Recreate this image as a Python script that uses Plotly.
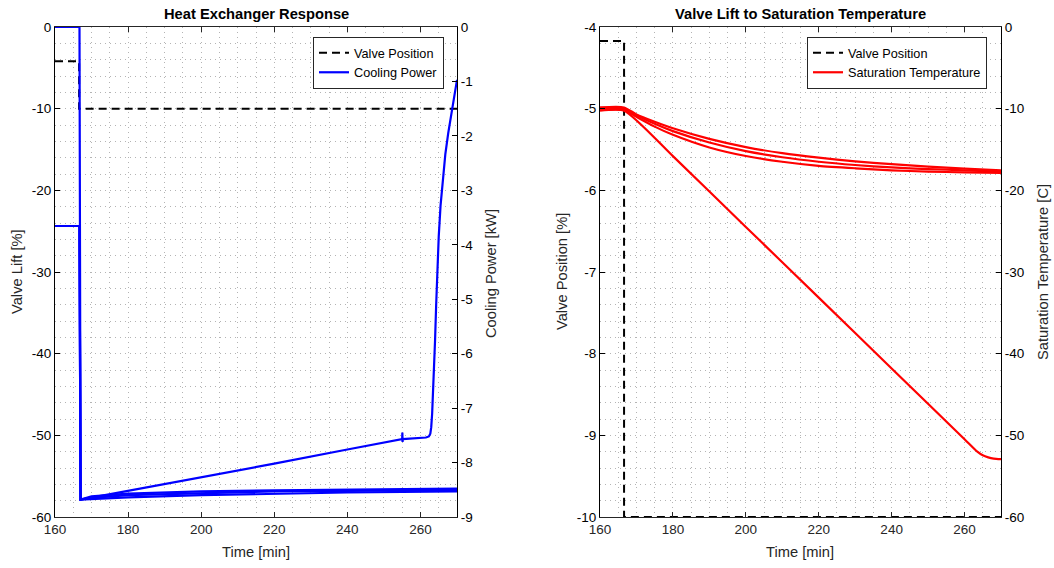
import plotly.graph_objects as go

# ---------------- data ----------------
# Left subplot: Heat Exchanger Response
t_valve = [160, 166.6, 166.6, 270]
valve_left = [-4.2, -4.2, -10, -10]          # Valve Lift [%]

t_cp1 = [160, 166.7, 167.0, 180, 200, 220, 240, 254.9, 255.0, 255.05, 255.1, 255.2,
         261.5, 262.3, 262.7, 262.95, 263.2, 263.45, 263.7, 264.0, 264.3, 264.6, 265.0,
         265.5, 266.1, 266.8, 267.6, 268.4, 269.2, 270]
cp1 = [0, 0, -8.68, -8.52, -8.27, -8.02, -7.76, -7.575, -7.57, -7.45, -7.62, -7.57,
       -7.54, -7.52, -7.47, -7.35, -7.1, -6.75, -6.3, -5.75, -5.1, -4.45, -3.85,
       -3.28, -2.78, -2.34, -1.95, -1.62, -1.3, -0.97]

t_cp_band = [160, 166.7, 167.0, 170, 180, 200, 220, 240, 270]
cp2 = [-3.655, -3.655, -8.68, -8.62, -8.57, -8.53, -8.51, -8.50, -8.48]
cp3 = [-3.655, -3.655, -8.68, -8.65, -8.60, -8.56, -8.53, -8.52, -8.50]
cp4 = [-3.655, -3.655, -8.68, -8.67, -8.64, -8.60, -8.57, -8.55, -8.53]

# Right subplot: Valve Lift to Saturation Temperature
valve_right = [-4.17, -4.17, -10, -10]       # Valve Position [%]

t_sat = [160, 166.6, 170, 175, 180, 190, 200, 210, 220, 230, 240, 250, 260, 270]
sat_a = [-9.85, -9.85, -10.7, -11.6, -12.4, -13.7, -14.7, -15.45, -16.0, -16.45, -16.8, -17.1, -17.35, -17.55]
sat_b = [-10.0, -10.0, -10.8, -11.85, -12.75, -14.15, -15.2, -15.95, -16.5, -16.9, -17.2, -17.4, -17.55, -17.7]
sat_c = [-10.15, -10.15, -11.0, -12.2, -13.2, -14.75, -15.8, -16.5, -17.0, -17.3, -17.55, -17.7, -17.8, -17.85]

t_sat_d = [160, 166.6, 180, 200, 220, 240, 260, 263.5, 265, 266.5, 268, 270]
sat_d = [-10.25, -10.25, -15.81, -24.48, -33.14, -41.81, -50.48, -52.0, -52.45, -52.7, -52.85, -52.92]

x_ticks = [160, 180, 200, 220, 240, 260]
left_y_ticks = [0, -10, -20, -30, -40, -50, -60]
cp_ticks = [0, -1, -2, -3, -4, -5, -6, -7, -8, -9]
vp_ticks = [-4, -5, -6, -7, -8, -9, -10]
sat_ticks = [0, -10, -20, -30, -40, -50, -60]

# ---------------- figure ----------------
W, H = 1054, 568
FONT = "Liberation Sans, Arial, sans-serif"
GRID = "#b4b4b4"
GDASH = "1px,4px"
AX = "#262626"

fig = go.Figure()

dash = "8px,5px"

fig.add_trace(go.Scatter(x=t_valve, y=valve_left, mode="lines", name="Valve Position",
                         line=dict(color="black", width=2, dash=dash),
                         xaxis="x", yaxis="y", legend="legend", cliponaxis=False))
for i, (tt, vv) in enumerate([(t_cp1, cp1), (t_cp_band, cp2), (t_cp_band, cp3), (t_cp_band, cp4)]):
    fig.add_trace(go.Scatter(x=tt, y=vv, mode="lines", name="Cooling Power",
                             line=dict(color="#0000ff", width=2.2),
                             showlegend=(i == 0), legendgroup="cp",
                             xaxis="x", yaxis="y2", legend="legend", cliponaxis=False))

fig.add_trace(go.Scatter(x=t_valve, y=valve_right, mode="lines", name="Valve Position",
                         line=dict(color="black", width=2, dash=dash),
                         xaxis="x2", yaxis="y3", legend="legend2", cliponaxis=False))
for i, (tt, vv) in enumerate([(t_sat, sat_a), (t_sat, sat_b), (t_sat, sat_c), (t_sat_d, sat_d)]):
    fig.add_trace(go.Scatter(x=tt, y=vv, mode="lines", name="Saturation Temperature",
                             line=dict(color="#ff0000", width=2.2, shape="spline", smoothing=0.6),
                             showlegend=(i == 0), legendgroup="sat",
                             xaxis="x2", yaxis="y4", legend="legend2", cliponaxis=False))


def xaxis_cfg(domain, anchor):
    return dict(domain=domain, anchor=anchor, range=[160, 270], tickvals=x_ticks,
                ticktext=[str(v) for v in x_ticks], automargin=False,
                ticks="inside", ticklen=5, tickcolor=AX, showline=True, linecolor=AX,
                linewidth=1, mirror="ticks", showgrid=True, gridcolor=GRID, griddash=GDASH,
                gridwidth=1, zeroline=False,
                minor=dict(dtick=5, tick0=160, showgrid=True, gridcolor=GRID, griddash=GDASH, gridwidth=1),
                tickfont=dict(family=FONT, size=13.5, color="#262626"))


def ylabels(vals):
    return [str(v) for v in vals]


ydom = [51 / H, 541 / H]

fig.update_layout(
    width=W, height=H, margin=dict(l=0, r=0, t=0, b=0, autoexpand=False),
    paper_bgcolor="white", plot_bgcolor="white",
    font=dict(family=FONT, size=13.5, color="#262626"),
    xaxis=xaxis_cfg([55 / W, 457 / W], "y"),
    xaxis2=xaxis_cfg([600 / W, 1001 / W], "y3"),
    yaxis=dict(domain=ydom, anchor="x", range=[-60, 0], tickvals=left_y_ticks, automargin=False,
               ticktext=ylabels(left_y_ticks), ticks="inside", ticklen=5, tickcolor="black",
               showline=True, linecolor="black", linewidth=1, zeroline=False,
               showgrid=True, gridcolor=GRID, griddash=GDASH,
               minor=dict(dtick=2, showgrid=True, gridcolor=GRID, griddash=GDASH),
               tickfont=dict(family=FONT, size=13.5, color="black")),
    yaxis2=dict(overlaying="y", anchor="x", side="right", range=[-9, 0], tickvals=cp_ticks,
                automargin=False,
                ticktext=ylabels(cp_ticks), ticks="inside", ticklen=5, tickcolor="black",
                showline=True, linecolor="black", linewidth=1, zeroline=False, showgrid=False,
                tickfont=dict(family=FONT, size=13.5, color="black")),
    yaxis3=dict(domain=ydom, anchor="x2", range=[-10, -4], tickvals=vp_ticks, automargin=False,
                ticktext=ylabels(vp_ticks), ticks="inside", ticklen=5, tickcolor="black",
                showline=True, linecolor="black", linewidth=1, zeroline=False,
                showgrid=True, gridcolor=GRID, griddash=GDASH,
                minor=dict(dtick=0.2, showgrid=True, gridcolor=GRID, griddash=GDASH),
                tickfont=dict(family=FONT, size=13.5, color="black")),
    yaxis4=dict(overlaying="y3", anchor="x2", side="right", range=[-60, 0], tickvals=sat_ticks,
                automargin=False,
                ticktext=ylabels(sat_ticks), ticks="inside", ticklen=5, tickcolor="black",
                showline=True, linecolor="black", linewidth=1, zeroline=False, showgrid=False,
                tickfont=dict(family=FONT, size=13.5, color="black")),
    legend=dict(x=444 / W, y=1 - 37 / H, xanchor="right", yanchor="top",
                bgcolor="white", bordercolor=AX, borderwidth=1,
                font=dict(family=FONT, size=12.7, color="black"), tracegroupgap=0),
    legend2=dict(x=987 / W, y=1 - 37 / H, xanchor="right", yanchor="top",
                 bgcolor="white", bordercolor=AX, borderwidth=1,
                 font=dict(family=FONT, size=12.7, color="black"), tracegroupgap=0),
    showlegend=True,
)


def ann(text, px, py, angle=0, size=14.7, bold=False):
    fig.add_annotation(text=("<b>%s</b>" % text) if bold else text,
                       x=px / W, y=1 - py / H, xref="paper", yref="paper",
                       xanchor="center", yanchor="middle", showarrow=False, textangle=angle,
                       font=dict(family=FONT, size=size, color="black" if bold else "#262626"))


ann("Heat Exchanger Response", 256, 14, bold=True)
ann("Valve Lift to Saturation Temperature", 800, 14, bold=True)
ann("Time [min]", 256, 552)
ann("Time [min]", 800, 552)
ann("Valve Lift [%]", 17, 272, angle=-90)
ann("Cooling Power [kW]", 491, 274, angle=-90)
ann("Valve Position [%]", 562, 272, angle=-90)
ann("Saturation Temperature [C]", 1043, 272, angle=-90)

fig.write_html("out.html")
